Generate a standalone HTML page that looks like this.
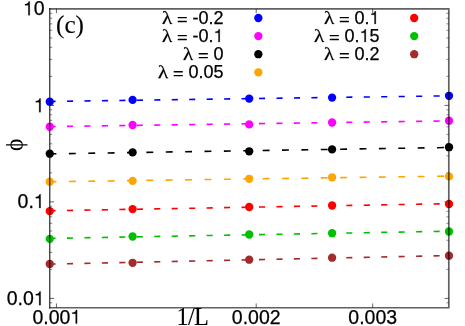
<!DOCTYPE html>
<html><head><meta charset="utf-8"><title>chart</title>
<style>
html,body{margin:0;padding:0;background:#fff;}
body{width:465px;height:326px;overflow:hidden;}
svg{display:block;will-change:transform;opacity:0.999;}
text{font-family:"Liberation Sans",sans-serif;fill:#000;stroke:#000;stroke-width:0.25;}
.s{font-family:"Liberation Serif",serif;stroke-width:0.1;}
.g{fill:#000;stroke:#000;stroke-width:0.25;}
</style></head><body>
<svg width="465" height="326" viewBox="0 0 465 326">
<defs>
<path id="one" d="M273 0V-505H101V-568C190 -572 270 -600 295 -703H346V0Z"/>
<path id="lam" d="M549 -764Q515 -670 228 0H54V-33L484 -986L439 -1124Q367 -1348 265 -1348Q237 -1348 208 -1336L168 -1253H119V-1423Q188 -1442 267 -1442Q360 -1442 418 -1381Q476 -1320 532 -1152L866 -147Q882 -99 915 -77Q948 -55 982 -45V0H786Z"/>
</defs>
<rect width="465" height="326" fill="#fff"/>
<g stroke="#555" stroke-width="0.9" fill="none">
<path d="M49.75 105.40h4.3M448.8 105.40h-4.3M49.75 201.90h4.3M448.8 201.90h-4.3M49.75 298.40h4.3M448.8 298.40h-4.3"/>
<path d="M49.75 76.35h2.5M49.75 59.36h2.5M49.75 47.30h2.5M49.75 37.95h2.5M49.75 30.31h2.5M49.75 23.85h2.5M49.75 18.25h2.5M49.75 13.32h2.5M49.75 172.85h2.5M49.75 155.86h2.5M49.75 143.80h2.5M49.75 134.45h2.5M49.75 126.81h2.5M49.75 120.35h2.5M49.75 114.75h2.5M49.75 109.82h2.5M49.75 269.35h2.5M49.75 252.36h2.5M49.75 240.30h2.5M49.75 230.95h2.5M49.75 223.31h2.5M49.75 216.85h2.5M49.75 211.25h2.5M49.75 206.32h2.5M49.75 302.82h2.5" stroke="#6a6a6a" stroke-width="0.8"/>
<path d="M448.8 76.35h-2.5M448.8 59.36h-2.5M448.8 47.30h-2.5M448.8 37.95h-2.5M448.8 30.31h-2.5M448.8 23.85h-2.5M448.8 18.25h-2.5M448.8 13.32h-2.5M448.8 172.85h-2.5M448.8 155.86h-2.5M448.8 143.80h-2.5M448.8 134.45h-2.5M448.8 126.81h-2.5M448.8 120.35h-2.5M448.8 114.75h-2.5M448.8 109.82h-2.5M448.8 269.35h-2.5M448.8 252.36h-2.5M448.8 240.30h-2.5M448.8 230.95h-2.5M448.8 223.31h-2.5M448.8 216.85h-2.5M448.8 211.25h-2.5M448.8 206.32h-2.5M448.8 302.82h-2.5" stroke="#777" stroke-width="0.8"/>
<path d="M56.45 307.75v-4.3M56.45 8.9v4.3M256.2 307.75v-4.3M256.2 8.9v4.3M372.7 307.75v-4.3M372.7 8.9v4.3"/>
</g>
<g fill="none" stroke-width="1.6">
<path d="M49.75 101.44L449.00 95.81" stroke="#0000ff" stroke-dasharray="6.1 11.36" stroke-dashoffset="0.25"/>
<path d="M49.75 126.64L449.00 120.88" stroke="#ff00ff" stroke-dasharray="6.1 11.36" stroke-dashoffset="0.25"/>
<path d="M49.75 153.89L449.00 147.49" stroke="#000000" stroke-dasharray="6.9 12.48" stroke-dashoffset="0.25"/>
<path d="M49.75 181.76L449.00 176.09" stroke="#ffa500" stroke-dasharray="6.9 12.48" stroke-dashoffset="0.25"/>
<path d="M49.75 210.76L449.00 203.67" stroke="#ff0000" stroke-dasharray="6.1 11.36" stroke-dashoffset="0.25"/>
<path d="M49.75 238.40L449.00 231.19" stroke="#00c000" stroke-dasharray="6.1 11.36" stroke-dashoffset="0.25"/>
<path d="M49.75 264.15L449.00 255.50" stroke="#a52a2a" stroke-dasharray="6.1 11.36" stroke-dashoffset="0.25"/>
</g>
<g fill="#0000ff"><circle cx="49.75" cy="101.7" r="4.15"/><circle cx="132.6" cy="99.9" r="4.15"/><circle cx="249.2" cy="98.6" r="4.15"/><circle cx="332.1" cy="97.6" r="4.15"/><circle cx="449.0" cy="95.8" r="4.15"/></g>
<g fill="#ff00ff"><circle cx="49.75" cy="126.7" r="4.15"/><circle cx="132.6" cy="125.0" r="4.15"/><circle cx="249.2" cy="124.4" r="4.15"/><circle cx="332.1" cy="122.5" r="4.15"/><circle cx="449.0" cy="120.7" r="4.15"/></g>
<g fill="#000000"><circle cx="49.75" cy="153.7" r="4.15"/><circle cx="132.6" cy="152.4" r="4.15"/><circle cx="249.2" cy="151.3" r="4.15"/><circle cx="332.1" cy="149.4" r="4.15"/><circle cx="449.0" cy="147.2" r="4.15"/></g>
<g fill="#ffa500"><circle cx="49.75" cy="181.7" r="4.15"/><circle cx="132.6" cy="180.9" r="4.15"/><circle cx="249.2" cy="178.8" r="4.15"/><circle cx="332.1" cy="177.3" r="4.15"/><circle cx="449.0" cy="176.4" r="4.15"/></g>
<g fill="#ff0000"><circle cx="49.75" cy="211.1" r="4.15"/><circle cx="132.6" cy="209.1" r="4.15"/><circle cx="249.2" cy="207.0" r="4.15"/><circle cx="332.1" cy="205.5" r="4.15"/><circle cx="449.0" cy="204.0" r="4.15"/></g>
<g fill="#00c000"><circle cx="49.75" cy="238.9" r="4.15"/><circle cx="132.6" cy="236.5" r="4.15"/><circle cx="249.2" cy="234.5" r="4.15"/><circle cx="332.1" cy="233.2" r="4.15"/><circle cx="449.0" cy="231.5" r="4.15"/></g>
<g fill="#a52a2a"><circle cx="49.75" cy="263.95" r="4.15"/><circle cx="132.6" cy="262.8" r="4.15"/><circle cx="249.2" cy="259.7" r="4.15"/><circle cx="332.1" cy="257.7" r="4.15"/><circle cx="449.0" cy="255.7" r="4.15"/></g>
<path d="M49.1 8.9H449.6M448.8 8.9V307.75M449.6 307.75H49.1" fill="none" stroke="#000" stroke-opacity="0.62" stroke-width="1.7"/>
<path d="M49.75 8.1V308.55" fill="none" stroke="#000" stroke-opacity="0.78" stroke-width="1.3"/>
<use href="#one" class="g" transform="translate(23.01 15.20) scale(0.01950)" style="stroke-width:12.8"/>
<text x="33.86" y="15.20" font-size="19.5">0</text>
<use href="#one" class="g" transform="translate(33.86 112.15) scale(0.01950)" style="stroke-width:12.8"/>
<text x="17.59" y="208.05" font-size="19.5">0.</text>
<use href="#one" class="g" transform="translate(33.86 208.05) scale(0.01950)" style="stroke-width:12.8"/>
<text x="6.75" y="305.15" font-size="19.5">0.0</text>
<use href="#one" class="g" transform="translate(33.86 305.15) scale(0.01950)" style="stroke-width:12.8"/>
<text x="32.40" y="323.60" font-size="19.5">0.00</text>
<use href="#one" class="g" transform="translate(70.35 323.60) scale(0.01950)" style="stroke-width:12.8"/>
<text x="231.80" y="323.60" font-size="19.5">0.002</text>
<text x="348.30" y="323.60" font-size="19.5">0.003</text>
<text class="s" x="56.0" y="32.55" font-size="25.2">(c)</text>
<text class="s" x="176.5" y="324.8" font-size="24.3" letter-spacing="-0.75">1/L</text>
<text x="192.53" y="23.90" font-size="18">-0.2</text>
<path fill="none" stroke="#000" stroke-width="1.35" d="M177.72 21.45h9.11M177.72 17.60h9.11"/>
<use href="#lam" class="g" transform="translate(161.87 24.00) scale(0.01049 0.00895)" style="stroke-width:23.8"/>
<circle cx="258.35" cy="18.00" r="4.15" fill="#0000ff"/>
<text x="192.53" y="41.95" font-size="18">-0.</text>
<use href="#one" class="g" transform="translate(213.54 41.95) scale(0.01800)" style="stroke-width:13.9"/>
<path fill="none" stroke="#000" stroke-width="1.35" d="M177.72 39.50h9.11M177.72 35.65h9.11"/>
<use href="#lam" class="g" transform="translate(161.87 42.05) scale(0.01049 0.00895)" style="stroke-width:23.8"/>
<circle cx="258.35" cy="36.10" r="4.15" fill="#ff00ff"/>
<text x="213.54" y="60.00" font-size="18">0</text>
<path fill="none" stroke="#000" stroke-width="1.35" d="M198.73 57.55h9.11M198.73 53.70h9.11"/>
<use href="#lam" class="g" transform="translate(182.88 60.10) scale(0.01049 0.00895)" style="stroke-width:23.8"/>
<circle cx="258.35" cy="54.20" r="4.15" fill="#000"/>
<text x="188.52" y="78.05" font-size="18">0.05</text>
<path fill="none" stroke="#000" stroke-width="1.35" d="M173.70 75.60h9.11M173.70 71.75h9.11"/>
<use href="#lam" class="g" transform="translate(157.85 78.15) scale(0.01049 0.00895)" style="stroke-width:23.8"/>
<circle cx="258.35" cy="72.30" r="4.15" fill="#ffa500"/>
<text x="354.58" y="23.90" font-size="18">0.</text>
<use href="#one" class="g" transform="translate(369.59 23.90) scale(0.01800)" style="stroke-width:13.9"/>
<path fill="none" stroke="#000" stroke-width="1.35" d="M339.76 21.45h9.11M339.76 17.60h9.11"/>
<use href="#lam" class="g" transform="translate(323.91 24.00) scale(0.01049 0.00895)" style="stroke-width:23.8"/>
<circle cx="414.2" cy="18.00" r="4.15" fill="#ff0000"/>
<text x="344.57" y="41.95" font-size="18">0.</text>
<use href="#one" class="g" transform="translate(359.58 41.95) scale(0.01800)" style="stroke-width:13.9"/>
<text x="369.59" y="41.95" font-size="18">5</text>
<path fill="none" stroke="#000" stroke-width="1.35" d="M329.75 39.50h9.11M329.75 35.65h9.11"/>
<use href="#lam" class="g" transform="translate(313.90 42.05) scale(0.01049 0.00895)" style="stroke-width:23.8"/>
<circle cx="414.2" cy="36.10" r="4.15" fill="#00c000"/>
<text x="354.58" y="60.00" font-size="18">0.2</text>
<path fill="none" stroke="#000" stroke-width="1.35" d="M339.76 57.55h9.11M339.76 53.70h9.11"/>
<use href="#lam" class="g" transform="translate(323.91 60.10) scale(0.01049 0.00895)" style="stroke-width:23.8"/>
<circle cx="414.2" cy="54.20" r="4.15" fill="#a52a2a"/>
<path fill="#000" transform="translate(22.58 151.1) rotate(-90) scale(0.01162 0.01261)" d="M483 390V18Q69 -10 69 -475Q69 -698 171.5 -823Q274 -948 483 -963V-1315H593V-963Q798 -949 902.5 -826Q1007 -703 1007 -475Q1007 -14 593 17V390ZM249 -475Q249 -265 305 -170Q361 -75 483 -61V-882Q361 -868 305 -775Q249 -682 249 -475ZM827 -475Q827 -668 770 -765Q713 -862 593 -880V-63Q711 -81 769 -179.5Q827 -278 827 -475Z"/>
</svg></body></html>
